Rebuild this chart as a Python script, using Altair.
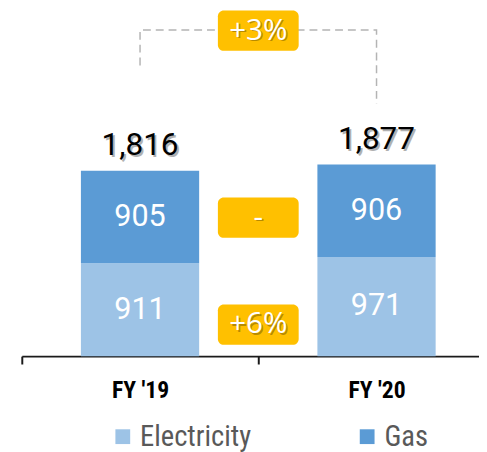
import altair as alt
import pandas as pd

# ---- data ----
years = ["FY '19", "FY '20"]
electricity = [911, 971]
gas = [905, 906]
series = ["Electricity", "Gas"]
series_colors = ["#9DC3E6", "#5B9BD5"]

badge_text = ["+3%", "-", "+6%"]
badge_level = [3190, 1357, 309]   # y-values (units) where the change badges sit
badge_gap = [1, 1, 1]             # gap index between the two years

bracket_year = ["FY '19", "FY '19", "FY '20", "FY '20"]
bracket_level = [2849, 3197, 3197, 2472]
bracket_step = [0, 1, 2, 3]

# ---- tables ----
rows = []
for i, yr in enumerate(years):
    rows.append({"year": yr, "series": "Electricity", "value": electricity[i], "ord": 0})
    rows.append({"year": yr, "series": "Gas", "value": gas[i], "ord": 1})
df = pd.DataFrame(rows)

tot = pd.DataFrame({"year": years, "total": [e + g for e, g in zip(electricity, gas)]})
tot["label"] = tot["total"].map(lambda v: f"{v:,}")

badges = pd.DataFrame({"gap": badge_gap, "level": badge_level, "label": badge_text})
bracket = pd.DataFrame({"year": bracket_year, "level": bracket_level, "step": bracket_step})

NUM_FONT = "Roboto"
BADGE_FONT = "Open Sans"
NARROW = "Liberation Sans Narrow, Roboto Condensed, Arial Narrow, sans-serif"

y_scale = alt.Scale(domain=[0, 3380], nice=False, zero=True)
x_scale = alt.Scale(domain=years, range=[0, 480], paddingInner=0, paddingOuter=0)

x_axis = alt.Axis(
    title=None, labelAngle=0, tickBand="extent", grid=False,
    domainColor="#1a1a1a", domainWidth=2, tickColor="#1a1a1a", tickWidth=2, tickSize=8,
    labelFont=NARROW, labelFontSize=24, labelFontWeight="bold", labelColor="#000000",
    labelPadding=15,
)

bars = alt.Chart(df).mark_bar(width=alt.RelativeBandSize(0.5)).encode(
    x=alt.X("year:N", scale=x_scale, axis=x_axis),
    y=alt.Y("value:Q", stack="zero", scale=y_scale, axis=None),
    color=alt.Color(
        "series:N",
        scale=alt.Scale(domain=series, range=series_colors),
        legend=alt.Legend(
            title=None, orient="none", legendX=88, legendY=417, direction="horizontal",
            columns=2, symbolType="square", symbolSize=225, symbolStrokeWidth=0,
            labelFont=NARROW, labelFontSize=29, labelColor="#595959", labelOffset=3,
            columnPadding=103, padding=0, labelLimit=0,
        ),
    ),
    order=alt.Order("ord:Q"),
)

seg = (
    alt.Chart(df)
    .transform_stack(stack="value", groupby=["year"], as_=["v0", "v1"],
                     sort=[alt.SortField("ord", order="ascending")])
    .transform_calculate(mid="(datum.v0 + datum.v1) / 2")
    .mark_text(font=NUM_FONT, fontSize=31, color="white", baseline="middle")
    .encode(x=alt.X("year:N"), y=alt.Y("mid:Q"), text=alt.Text("value:Q"))
)

tot_shadow = alt.Chart(tot).mark_text(
    font=NUM_FONT, fontSize=32, color="#000000", opacity=0.3, baseline="alphabetic", dx=2, dy=-14
).encode(x=alt.X("year:N"), y=alt.Y("total:Q"), text="label:N")
tot_text = alt.Chart(tot).mark_text(
    font=NUM_FONT, fontSize=32, color="#000000", baseline="alphabetic", dy=-16
).encode(x=alt.X("year:N"), y=alt.Y("total:Q"), text="label:N")

brk = alt.Chart(bracket).mark_line(strokeDash=[8, 5], color="#B4B4B4", strokeWidth=1.5).encode(
    x=alt.X("year:N"), y=alt.Y("level:Q"), order=alt.Order("step:Q")
)

main = alt.layer(bars, seg, tot_shadow, tot_text, brk)

gx = alt.X("gap:Q", scale=alt.Scale(domain=[0, 2], range=[0, 480], nice=False, zero=False), axis=None)
b_rect = alt.Chart(badges).mark_rect(width=82, height=41, cornerRadius=6, color="#FFC000").encode(
    x=gx, y=alt.Y("level:Q")
)
b_shadow = alt.Chart(badges).mark_text(
    font=BADGE_FONT, fontSize=30, color="#7F6000", opacity=0.55, baseline="middle", dx=1.5, dy=1.5
).encode(x=gx, y=alt.Y("level:Q"), text="label:N")
b_text = alt.Chart(badges).mark_text(
    font=BADGE_FONT, fontSize=30, color="white", baseline="middle"
).encode(x=gx, y=alt.Y("level:Q"), text="label:N")
badge_layer = alt.layer(b_rect, b_shadow, b_text)

chart = (
    alt.layer(main, badge_layer)
    .resolve_scale(x="independent")
    .properties(
        width=464, height=350,
        autosize=alt.AutoSizeParams(type="none"),
        padding={"left": 14, "top": 0, "right": 0, "bottom": 94},
    )
    .configure_view(stroke=None)
)

chart.save("out.html", embed_options={"renderer": "svg", "actions": False})
